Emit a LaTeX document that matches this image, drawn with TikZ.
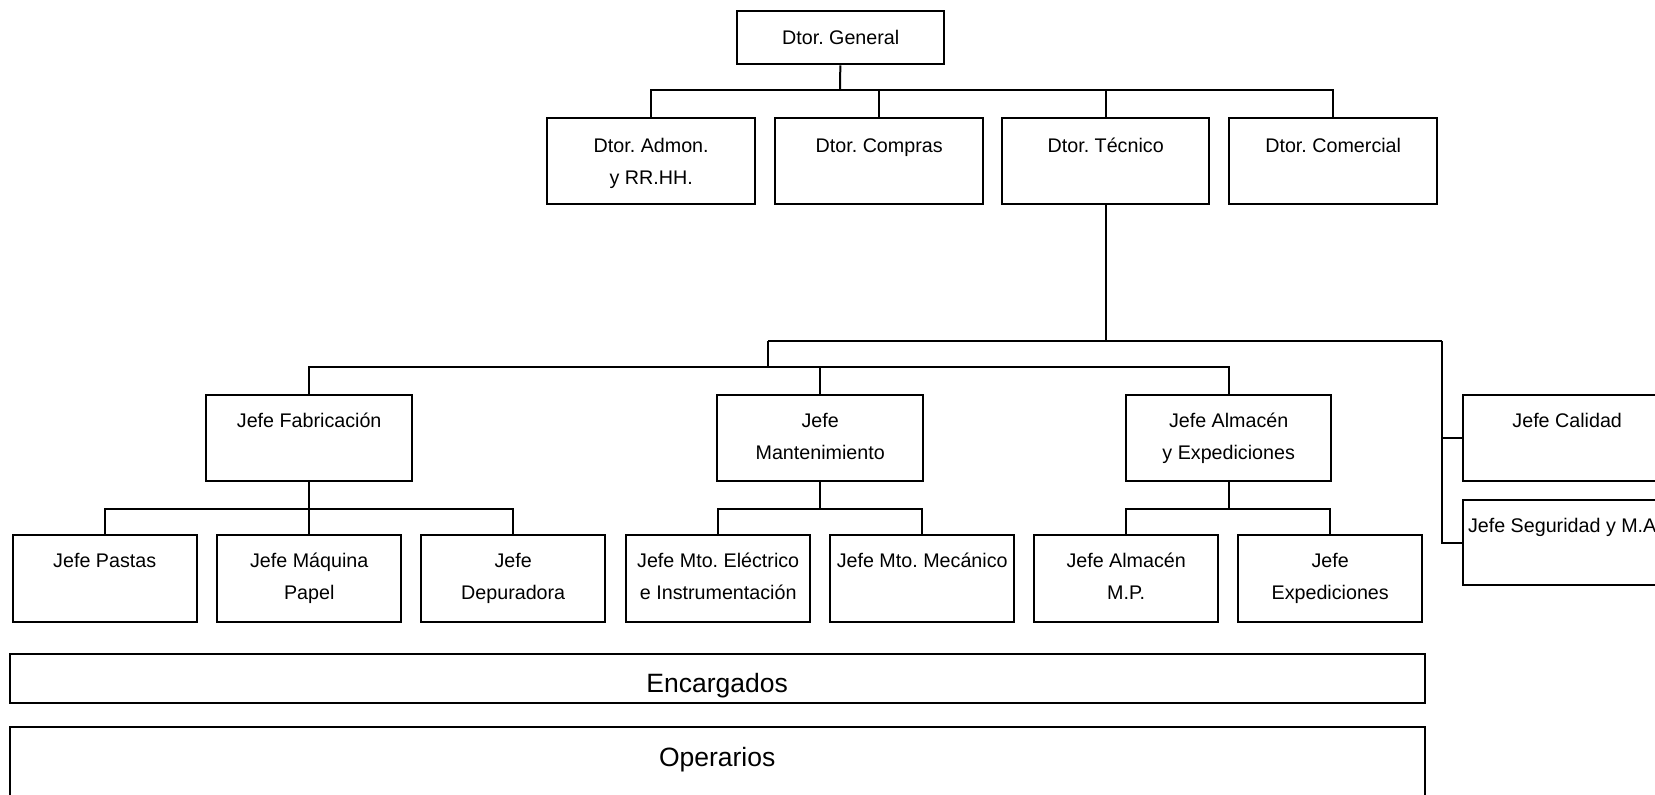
\documentclass[tikz,border=0pt]{standalone}
\usepackage{fontspec}
\setmainfont{Liberation Sans}
\usetikzlibrary{calc, math}
\frenchspacing

\begin{document}
\begin{tikzpicture}[x=1pt, y=-1pt, line width=2pt,
	font=\fontsize{19.7}{32}\selectfont,
	caja/.style 2 args={draw, line width=2.4pt, inner sep=0pt, anchor=north west, minimum width=#1, minimum height=#2},
	rotulo/.style={anchor=base, align=center, inner sep=0pt, yshift=-#1},
	grande/.style={font=\fontsize{26.5}{30}\selectfont}]

% baseline of the last line: top + first baseline + 32 per extra line
\tikzmath{
			\yA = 10; \yB = 117; \yC = 394; \yD = 534;
			\yS = 499; \yE = 653; \yO = 726;
			\wB = 208; \wC = 206; \wD = 184;
          }

\useasboundingbox (0,0) rectangle (1655,795);
\clip (0,0) rectangle (1655,795);

\node[caja={207}{53}, label={[rotulo=34]north:Dtor. General}] (gen) at (736,\yA) {};

\node[caja={\wB}{86}, label={[rotulo=67]north:{Dtor. Admon.\\y RR.HH.}}] (admon) at (546,\yB) {};
\node[caja={\wB}{86}, label={[rotulo=35]north:Dtor. Compras}] (compras) at (774,\yB) {};
\node[caja={207}{86}, label={[rotulo=35]north:Dtor. Técnico}] (tecnico) at (1001,\yB) {};
\node[caja={\wB}{86}, label={[rotulo=35]north:Dtor. Comercial}] (comercial) at (1228,\yB) {};

\node[caja={\wC}{86}, label={[rotulo=33]north:Jefe Fabricación}] (fab) at (205,\yC) {};
\node[caja={\wC}{86}, label={[rotulo=65]north:{Jefe\\Mantenimiento}}] (mant) at (716,\yC) {};
\node[caja={205}{86}, label={[rotulo=65]north:{Jefe Almacén\\y Expediciones}}] (alm) at (1125,\yC) {};
\node[caja={\wB}{86}, label={[rotulo=33]north:Jefe Calidad}] (calidad) at (1462,\yC) {};
\node[caja={\wB}{85}, label={[rotulo=33, xshift=-5]north:Jefe Seguridad y M.A}] (seguridad) at (1462,\yS) {};

\node[caja={\wD}{87}, label={[rotulo=33]north:Jefe Pastas}] (pastas) at (11.5,\yD) {};
\node[caja={\wD}{87}, label={[rotulo=65]north:{Jefe Máquina\\Papel}}] (maquina) at (216,\yD) {};
\node[caja={\wD}{87}, label={[rotulo=65]north:{Jefe\\Depuradora}}] (depur) at (420,\yD) {};
\node[caja={\wD}{87}, label={[rotulo=65]north:{Jefe Mto. Eléctrico\\e Instrumentación}}] (electrico) at (625,\yD) {};
\node[caja={\wD}{87}, label={[rotulo=33]north:Jefe Mto. Mecánico}] (mecanico) at (829,\yD) {};
\node[caja={\wD}{87}, label={[rotulo=65]north:{Jefe Almacén\\M.P.}}] (almmp) at (1033,\yD) {};
\node[caja={\wD}{87}, label={[rotulo=65]north:{Jefe\\Expediciones}}] (exped) at (1237,\yD) {};

\node[caja={1415}{49}, label={[rotulo=39, grande]north:Encargados}] (encargados) at (8.5,\yE) {};
\node[caja={1415}{90}, label={[rotulo=40, grande]north:Operarios}] (operarios) at (8.5,\yO) {};

% direccion
\coordinate (b1) at (840,90);
\draw (gen) -- (b1);
\draw (admon.north) |- (b1) -| (comercial.north);
\draw (compras.north) -- (compras.north |- b1);
\draw (tecnico.north) -- (tecnico.north |- b1);

% dtor. tecnico
\coordinate (b2l) at (768,341);
\coordinate (b2r) at (1442,341);
\coordinate (b3) at (768,367);
\draw (tecnico.south) -- (tecnico.south |- b2l);
\draw (b2l) -- (b2r);
\draw (b2l) -- (b3);
\draw (fab.north) |- (b3) -| (alm.north);
\draw (mant.north) -- (mant.north |- b3);
\draw (b2r) |- (calidad.west);
\draw (b2r) |- (seguridad.west);

% jefes
\draw (fab.south) -- ++(0,27) coordinate (bfab);
\draw (pastas.north) |- (bfab) -| (depur.north);
\draw (maquina.north) -- (bfab);
\draw (mant.south) -- ++(0,27) coordinate (bmant);
\draw (electrico.north) |- (bmant) -| (mecanico.north);
\draw (alm.south) -- ++(0,27) coordinate (balm);
\draw (almmp.north) |- (balm) -| (exped.north);

\end{tikzpicture}
\end{document}
